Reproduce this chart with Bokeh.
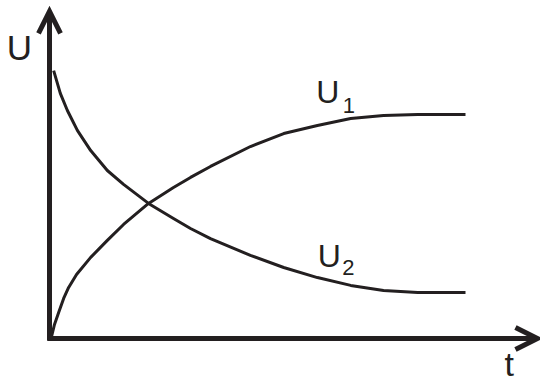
from bokeh.plotting import figure
from bokeh.models import Range1d, Arrow, OpenHead
from bokeh.core.properties import value
from bokeh.embed import file_html
from bokeh.resources import INLINE

# ---- data (arbitrary units read from the schematic) ----
t_u1 = [0.05, 0.12, 0.22, 0.34, 0.46, 0.65, 0.99, 1.39, 1.78, 2.38, 2.98, 3.39, 3.87, 4.83, 5.63, 6.44, 7.24, 8.03, 8.85, 10.0]
u1 = [0.09, 0.63, 1.16, 1.79, 2.28, 2.86, 3.62, 4.38, 5.09, 6.03, 6.74, 7.19, 7.68, 8.57, 9.15, 9.51, 9.82, 9.96, 10.0, 10.0]

t_u2 = [0.10, 0.26, 0.43, 0.67, 0.99, 1.39, 1.78, 2.38, 2.98, 3.39, 3.87, 4.83, 5.63, 6.44, 7.24, 8.03, 8.85, 10.0]
u2 = [11.96, 10.94, 10.18, 9.29, 8.39, 7.50, 6.88, 6.03, 5.36, 4.91, 4.46, 3.71, 3.17, 2.72, 2.37, 2.14, 2.05, 2.05]

# axis extents
t_axis_end = 11.73
u_axis_end = 14.60

INK = "#231f20"
FONT = "Liberation Sans"

p = figure(width=540, height=378, output_backend="svg", toolbar_location=None,
           x_range=Range1d(-1.178, 11.803), y_range=Range1d(-1.786, 15.089),
           min_border=0, background_fill_color="white", border_fill_color="white")
p.axis.visible = False
p.grid.visible = False
p.outline_line_color = None

# axes with open arrow heads
p.add_layout(Arrow(end=OpenHead(size=22, line_width=5, line_color=INK, line_join="miter"),
                   x_start=0, y_start=-0.09, x_end=0, y_end=u_axis_end,
                   line_width=5, line_color=INK))
p.add_layout(Arrow(end=OpenHead(size=22, line_width=5, line_color=INK, line_join="miter"),
                   x_start=-0.05, y_start=0, x_end=t_axis_end, y_end=0,
                   line_width=5, line_color=INK))

# curves
p.line(t_u1, u1, line_width=3, line_color=INK, line_join="round")
p.line(t_u2, u2, line_width=3, line_color=INK, line_join="round")

# labels
def label(x, y, s, size):
    p.text(x=[x], y=[y], text=[s], text_font=value(FONT), text_font_size=size,
           text_color=INK, text_align="left", text_baseline="alphabetic")

label(-1.03, 12.99, "U", "35px")
label(10.94, -1.16, "t", "34px")
label(6.41, 11.02, "U", "32px")
label(7.05, 10.41, "1", "22px")
label(6.45, 3.70, "U", "32px")
label(7.04, 3.17, "2", "22px")

open("out.html", "w").write(file_html(p, INLINE))
